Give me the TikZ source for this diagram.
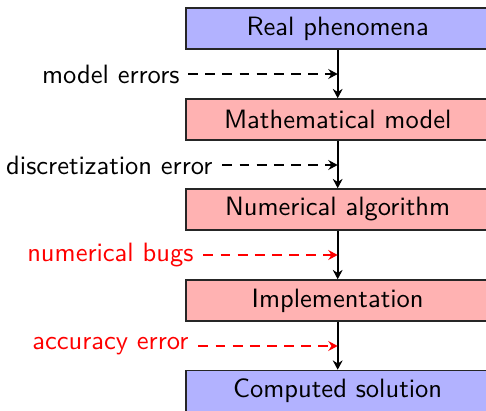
\documentclass[tikz,border=0pt]{standalone}
\usetikzlibrary{arrows.meta}
\begin{document}
\begin{tikzpicture}[x=0.3846pt,y=-0.3846pt,
  every node/.style={font=\fontsize{10.2}{12}\sffamily},
  stage/.style={draw=black!85, line width=0.55pt, minimum width=116.6pt, minimum height=15.8pt, inner sep=0pt},
  blu/.style={stage, fill=blue!30},
  rd/.style={stage, fill=red!30},
  flow/.style={line width=0.75pt, -{Stealth[length=3.6pt,width=3.8pt,inset=1.2pt]}},
  err/.style={line width=0.75pt, dash pattern=on 3.8pt off 2.8pt, -{Stealth[length=3.6pt,width=3.8pt,inset=1.2pt]}},
  lab/.style={anchor=east, inner sep=0pt}
]
\useasboundingbox (0,0) rectangle (486,411);
\node[blu] (b1) at (337.7,28.5) {Real phenomena};
\node[rd]  (b2) at (337.7,119.5) {Mathematical model};
\node[rd]  (b3) at (337.7,209.5) {Numerical algorithm};
\node[rd]  (b4) at (337.7,300.5) {Implementation};
\node[blu] (b5) at (337.7,391) {Computed solution};

\draw[flow] (b1) -- (b2);
\draw[flow] (b2) -- (b3);
\draw[flow] (b3) -- (b4);
\draw[flow] (b4) -- (b5);

\coordinate (e1) at (337.7,74);
\coordinate (e2) at (337.7,165);
\coordinate (e3) at (337.7,255);
\coordinate (e4) at (337.7,346);

\node[lab] (l1) at (180,74) {model errors};
\node[lab] (l2) at (213,165) {discretization error};
\node[lab, text=red] (l3) at (194,255) {numerical bugs};
\node[lab, text=red] (l4) at (189,346) {accuracy error};

\draw[err] ([xshift=3.1pt]l1.east) -- (e1);
\draw[err] ([xshift=3.6pt]l2.east) -- (e2);
\draw[err, red] ([xshift=3.6pt]l3.east) -- (e3);
\draw[err, red] ([xshift=3.6pt]l4.east) -- (e4);
\end{tikzpicture}
\end{document}
